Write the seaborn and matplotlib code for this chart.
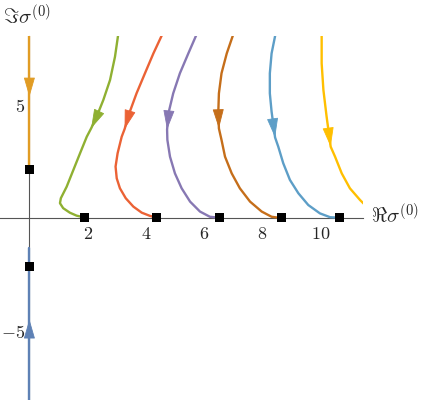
import numpy as np
import pandas as pd
import matplotlib
matplotlib.use("Agg")
import matplotlib.pyplot as plt
from matplotlib.ticker import MultipleLocator, FixedLocator, FixedFormatter
import seaborn as sns

# flow curves (top -> bottom, arrow tip index given)
green_x = [3.05, 2.94, 2.77, 2.54, 2.31, 2.12, 1.97, 1.74, 1.51, 1.28, 1.08, 1.05, 1.16, 1.39, 1.62, 1.85]
green_y = [8.10, 7.12, 6.09, 5.21, 4.47, 3.95, 3.58, 2.85, 2.11, 1.37, 0.86, 0.64, 0.42, 0.22, 0.09, 0.02]
red_x = [4.56, 4.26, 3.97, 3.68, 3.45, 3.27, 3.17, 3.03, 2.96, 3.00, 3.11, 3.31, 3.57, 3.86, 4.14, 4.37]
red_y = [8.10, 7.27, 6.39, 5.50, 4.69, 3.92, 3.58, 2.85, 2.26, 1.74, 1.30, 0.86, 0.49, 0.22, 0.08, 0.0]
purple_x = [5.74, 5.46, 5.17, 4.94, 4.79, 4.73, 4.74, 4.83, 5.00, 5.23, 5.52, 5.86, 6.20, 6.49]
purple_y = [8.10, 7.27, 6.39, 5.50, 4.69, 3.90, 3.44, 2.70, 1.96, 1.30, 0.71, 0.27, 0.04, 0.0]
brown_x = [7.00, 6.78, 6.60, 6.51, 6.49, 6.51, 6.60, 6.72, 6.95, 7.23, 7.58, 7.98, 8.32, 8.55]
brown_y = [8.10, 7.27, 6.39, 5.50, 4.69, 3.95, 3.44, 2.70, 1.96, 1.30, 0.71, 0.27, 0.04, 0.0]
lblue_x = [8.45, 8.32, 8.26, 8.26, 8.32, 8.44, 8.55, 8.72, 8.95, 9.24, 9.58, 9.98, 10.33, 10.61]
lblue_y = [8.10, 7.27, 6.39, 5.50, 4.69, 3.55, 3.14, 2.41, 1.67, 1.08, 0.56, 0.19, 0.02, 0.0]
yellow_x = [10.04, 10.04, 10.10, 10.21, 10.35, 10.50, 10.73, 11.01, 11.36, 11.50]
yellow_y = [8.10, 6.83, 5.65, 4.47, 3.14, 2.70, 1.96, 1.30, 0.78, 0.60]
orange_v_x = [0, 0, 0, 0]
orange_v_y = [8.20, 6.00, 5.35, 2.14]
blue_v_x = [0, 0, 0, 0]
blue_v_y = [-8.20, -5.20, -4.50, -1.35]

curve_names = ["blue_v", "orange_v", "green", "red", "purple", "brown", "lblue", "yellow"]
curve_xs = [blue_v_x, orange_v_x, green_x, red_x, purple_x, brown_x, lblue_x, yellow_x]
curve_ys = [blue_v_y, orange_v_y, green_y, red_y, purple_y, brown_y, lblue_y, yellow_y]
arrow_idx = [2, 2, 5, 5, 5, 5, 5, 4]
colors = ["#5E81B5", "#E19C24", "#8FB032", "#EB6235", "#8778B3", "#C56E1A", "#5D9EC7", "#FFBF00"]

# fixed points
fp_x = [0, 0, 1.90, 4.36, 6.54, 8.65, 10.67]
fp_y = [2.14, -2.14, 0, 0, 0, 0, 0]

rows = []
for name, xs, ys in zip(curve_names, curve_xs, curve_ys):
    for i, (a, b) in enumerate(zip(xs, ys)):
        rows.append({"curve": name, "order": i, "x": a, "y": b})
df = pd.DataFrame(rows)

sns.set_style("white")
plt.rcParams["mathtext.fontset"] = "cm"
plt.rcParams["font.family"] = ["DejaVu Serif"]

fig = plt.figure(figsize=(4.23, 4.0), dpi=100)
ax = fig.add_axes([0.0, 0.0, 362.7 / 423, 364 / 400])

sns.lineplot(data=df, x="x", y="y", hue="curve", hue_order=curve_names,
             palette=colors, sort=False, estimator=None, units="curve",
             linewidth=1.7, legend=False, ax=ax)

for xs, ys, i, c in zip(curve_xs, curve_ys, arrow_idx, colors):
    ax.annotate("", xy=(xs[i], ys[i]), xytext=(xs[i - 1], ys[i - 1]),
                arrowprops=dict(arrowstyle="-|>,head_length=0.62,head_width=0.18",
                                color=c, lw=0.6, mutation_scale=20,
                                shrinkA=0, shrinkB=0), zorder=4)

sns.scatterplot(x=fp_x, y=fp_y, marker="s", s=42, color="black",
                edgecolor="none", ax=ax, zorder=5, clip_on=False)

ax.set_xlim(-1.01, 11.45)
ax.set_ylim(-8.07, 8.04)
ax.set_xlabel("")
ax.set_ylabel("")
for s in ["top", "right"]:
    ax.spines[s].set_visible(False)
ax.spines["left"].set_position(("data", 0))
ax.spines["bottom"].set_position(("data", 0))
for s in ["left", "bottom"]:
    ax.spines[s].set_color("#555555")
    ax.spines[s].set_linewidth(0.8)
    ax.spines[s].set_zorder(1)
ax.patch.set_alpha(0)

ax.xaxis.set_major_locator(FixedLocator([2, 4, 6, 8, 10]))
ax.xaxis.set_major_formatter(FixedFormatter(["$2$", "$4$", "$6$", "$8$", "$10$"]))
ax.xaxis.set_minor_locator(MultipleLocator(0.5))
ax.yaxis.set_major_locator(FixedLocator([-5, 5]))
ax.yaxis.set_major_formatter(FixedFormatter(["$-5$", "$5$"]))
ax.yaxis.set_minor_locator(MultipleLocator(1))
ax.tick_params(which="major", direction="in", length=4.5, width=0.7, color="#555555",
               labelsize=13, pad=5)
ax.tick_params(axis="y", which="major", pad=3)
ax.tick_params(which="minor", direction="in", length=2.5, width=0.6, color="#555555")

fig.text(371 / 423, 1 - 215 / 400, r"$\Re\sigma^{(0)}$", fontsize=15, va="center", ha="left")
fig.text(3 / 423, 1 - 16 / 400, r"$\Im\sigma^{(0)}$", fontsize=15, va="center", ha="left")

fig.savefig("out.png", dpi=100)
